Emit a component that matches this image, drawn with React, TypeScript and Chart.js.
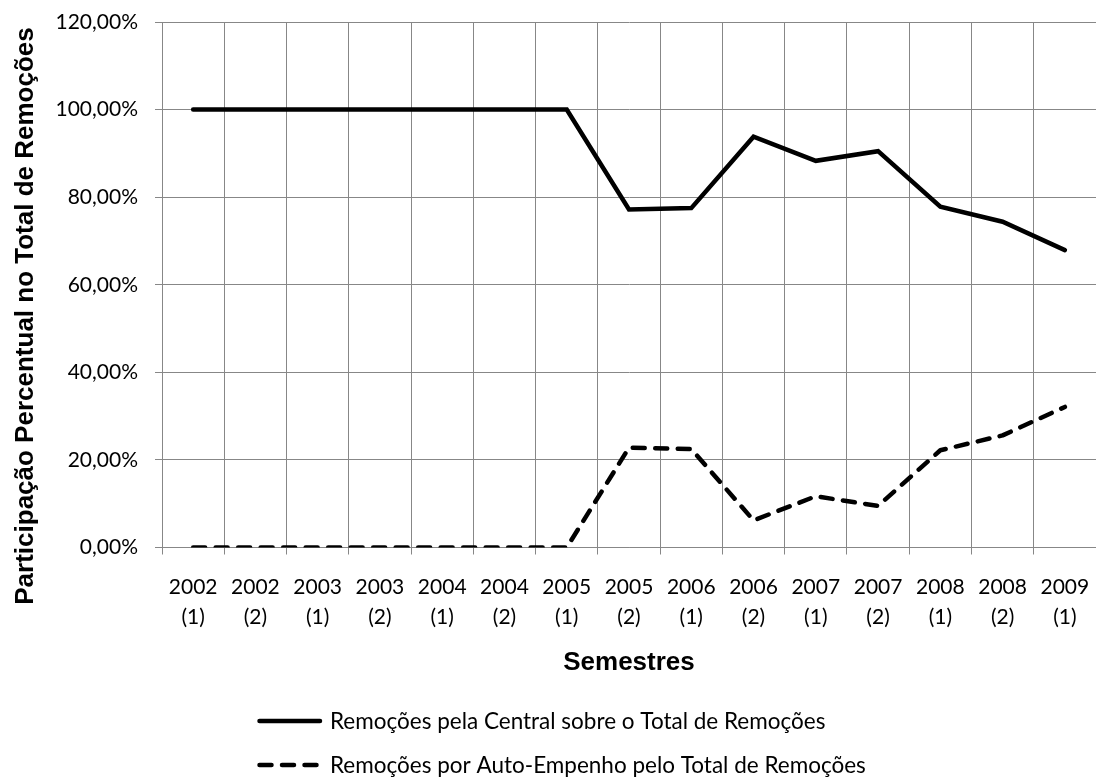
import { useEffect, useRef } from "react";
import { Chart, registerables } from "chart.js";

Chart.register(...registerables);

// Semesters on the horizontal axis: year on the first line, half on the second
const semesterYears = ["2002", "2002", "2003", "2003", "2004", "2004", "2005", "2005", "2006", "2006", "2007", "2007", "2008", "2008", "2009"];
const semesterHalves = ["(1)", "(2)", "(1)", "(2)", "(1)", "(2)", "(1)", "(2)", "(1)", "(2)", "(1)", "(2)", "(1)", "(2)", "(1)"];

// Share of all removals (%)
const centralShare = [100, 100, 100, 100, 100, 100, 100, 77.2, 77.5, 93.8, 88.3, 90.5, 77.8, 74.4, 67.9];
const selfShare = [0, 0, 0, 0, 0, 0, 0, 22.8, 22.5, 6.2, 11.7, 9.5, 22.2, 25.6, 32.1];

const seriesNames = [
  "Remoções pela Central sobre o Total de Remoções",
  "Remoções por Auto-Empenho pelo Total de Remoções",
];

const yAxisTitle = "Participação Percentual no Total de Remoções";
const xAxisTitle = "Semestres";
const yMin = 0;
const yMax = 120;
const yStep = 20;

const GRID = "#878787";
const TICK_FONT = "Lato, 'Open Sans', sans-serif";
const TITLE_FONT = "'Liberation Sans', Arial, sans-serif";

const formatPercent = (v: number) => `${v.toFixed(2).replace(".", ",")}%`;

// Draws the rotated y-axis title and the stacked legend below the axis
const decorPlugin = {
  id: "decor",
  afterDraw(chart: any) {
    const ctx = chart.ctx as CanvasRenderingContext2D;

    ctx.save();
    ctx.translate(33, 316);
    ctx.rotate(-Math.PI / 2);
    ctx.font = `bold 26px ${TITLE_FONT}`;
    ctx.fillStyle = "#000";
    ctx.textAlign = "center";
    ctx.textBaseline = "alphabetic";
    ctx.fillText(yAxisTitle, 0, 0);
    ctx.restore();

    const rowY = [721, 765];
    chart.data.datasets.forEach((ds: any, i: number) => {
      const y = rowY[i];
      ctx.save();
      ctx.strokeStyle = ds.borderColor;
      ctx.lineWidth = ds.borderWidth;
      ctx.lineCap = ds.borderCapStyle || "butt";
      ctx.setLineDash(ds.borderDash || []);
      ctx.beginPath();
      ctx.moveTo(259.5, y);
      ctx.lineTo(320, y);
      ctx.stroke();
      ctx.setLineDash([]);
      ctx.font = `22.5px ${TICK_FONT}`;
      ctx.fillStyle = "#000";
      ctx.textAlign = "left";
      ctx.textBaseline = "middle";
      ctx.fillText(ds.label, 330, y + 1);
      ctx.restore();
    });
  },
};

export default function App() {
  const canvasRef = useRef<HTMLCanvasElement>(null);

  useEffect(() => {
    if (!canvasRef.current) return;
    const chart = new Chart(canvasRef.current, {
      type: "line",
      data: {
        labels: semesterYears.map((y, i) => [y, semesterHalves[i]]),
        datasets: [
          {
            label: seriesNames[0],
            data: centralShare,
            borderColor: "#000",
            borderWidth: 4.5,
            borderCapStyle: "round",
            borderJoinStyle: "miter",
            pointRadius: 0,
            tension: 0,
            fill: false,
          },
          {
            label: seriesNames[1],
            data: selfShare,
            borderColor: "#000",
            borderWidth: 4.5,
            borderDash: [12, 10.5],
            borderCapStyle: "round",
            borderJoinStyle: "round",
            pointRadius: 0,
            tension: 0,
            fill: false,
          },
        ],
      },
      options: {
        animation: false,
        responsive: true,
        maintainAspectRatio: false,
        layout: { padding: { top: 22, right: 0, bottom: 99.5, left: 0 } },
        plugins: {
          legend: { display: false },
          tooltip: { enabled: false },
        },
        scales: {
          x: {
            offset: true,
            grid: { offset: true, color: GRID, lineWidth: 1, tickLength: 7, tickColor: GRID },
            border: { color: GRID, width: 1 },
            ticks: {
              color: "#000",
              font: { family: TICK_FONT, size: 21, lineHeight: 1.45 },
              padding: 17.5,
              maxRotation: 0,
              autoSkip: false,
            },
            title: {
              display: true,
              text: xAxisTitle,
              color: "#000",
              font: { family: TITLE_FONT, size: 26, weight: "bold" },
              padding: 0,
            },
            afterFit: (scale: any) => {
              scale.height = 131;
              scale.paddingLeft = 0;
              scale.paddingRight = 0;
            },
          },
          y: {
            min: yMin,
            max: yMax,
            grid: { color: GRID, lineWidth: 1, tickLength: 7, tickColor: GRID },
            border: { color: GRID, width: 1 },
            ticks: {
              stepSize: yStep,
              color: "#000",
              font: { family: TICK_FONT, size: 21, lineHeight: 1.2 },
              padding: 17,
              callback: (v: any) => formatPercent(Number(v)),
            },
            afterFit: (scale: any) => {
              scale.width = 162;
              scale.paddingTop = 0;
              scale.paddingBottom = 0;
            },
          },
        },
      } as any,
      plugins: [decorPlugin],
    });
    return () => chart.destroy();
  }, []);

  return (
    <div style={{ position: "absolute", left: 0, top: 0, width: 1096, height: 778 }}>
      <canvas ref={canvasRef} />
    </div>
  );
}
